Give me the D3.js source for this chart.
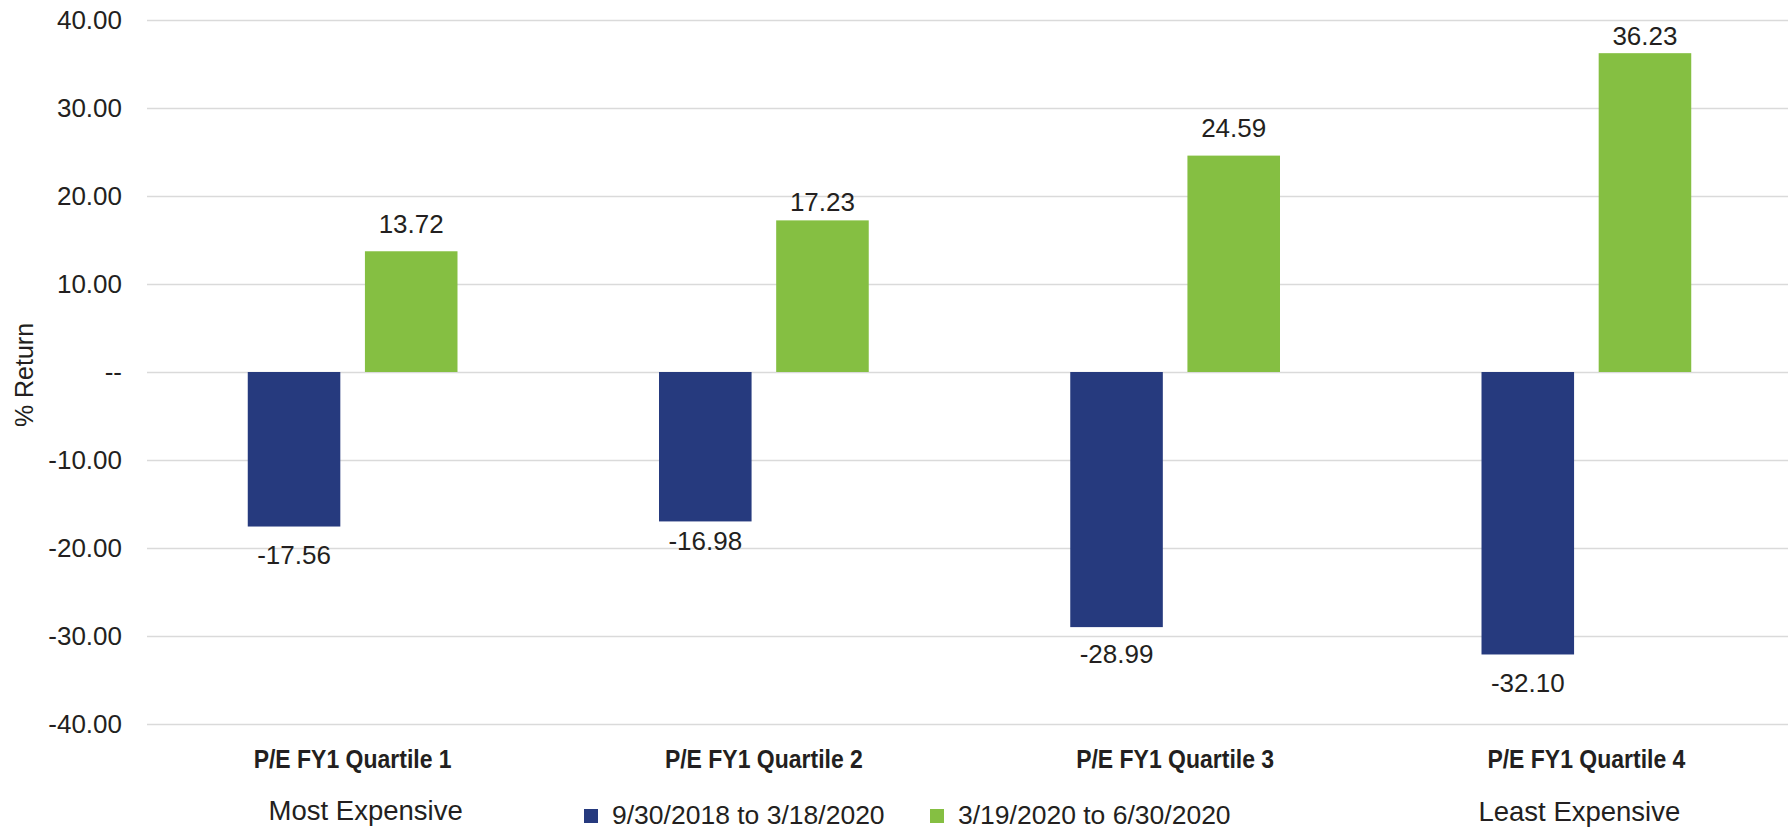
<!DOCTYPE html>
<html>
<head>
<meta charset="utf-8">
<script src="https://cdn.jsdelivr.net/npm/d3@7"></script>
<style>
  body { margin: 0; background: #fff; }
  svg text { font-family: "Liberation Sans", Arial, sans-serif; fill: #231f20; }
  .cat { font-family: "Liberation Sans Narrow", "Arial Narrow", "Liberation Sans", sans-serif; font-weight: bold; }
</style>
</head>
<body>
<svg id="chart" width="1788" height="830"></svg>
<script>
const categories = ["P/E FY1 Quartile 1", "P/E FY1 Quartile 2", "P/E FY1 Quartile 3", "P/E FY1 Quartile 4"];
const seriesNames = ["9/30/2018 to 3/18/2020", "3/19/2020 to 6/30/2020"];
const earlyReturns = [-17.56, -16.98, -28.99, -32.10];
const lateReturns = [13.72, 17.23, 24.59, 36.23];
const yTicks = [-40, -30, -20, -10, 0, 10, 20, 30, 40];
const endNotes = ["Most Expensive", "Least Expensive"];
const COLORS = ["#263a7e", "#85bf42"];

// label placement in the original is a bit uneven, nudge per category
const POS_GAP = [18, 9, 19, 8];
const NEG_GAP = [37, 29, 36, 38];

const svg = d3.select("#chart");
const W = 1788, H = 830;
const LEFT = 147, RIGHT = 1792, TOP = 20, BOTTOM = 724;

const rows = categories.map((c, i) => ({cat: c, idx: i, vals: [earlyReturns[i], lateReturns[i]]}));

const x0 = d3.scaleBand()
             .domain(categories)
             .range([LEFT, RIGHT])
             .paddingInner(0.49)
             .paddingOuter(0.245);

const x1 = d3.scaleBand()
             .domain([0, 1])
             .range([0, x0.bandwidth()])
             .paddingInner(0.21)
             .paddingOuter(0);

const y = d3.scaleLinear()
            .domain([-40, 40])
            .range([BOTTOM, TOP]);

// gridlines + tick labels
const yAxis = d3.axisLeft(y)
                .tickValues(yTicks)
                .tickSize(-(W - LEFT))
                .tickPadding(25)
                .tickFormat(d => d === 0 ? "--" : d.toFixed(2));

const gy = svg.append("g")
              .attr("transform", `translate(${LEFT},0)`)
              .call(yAxis);
gy.select(".domain").remove();
gy.selectAll(".tick line").attr("stroke", "#dadada").attr("stroke-width", 1.6);
gy.selectAll(".tick text")
  .attr("font-size", 26)
  .attr("font-family", "Liberation Sans, Arial, sans-serif")
  .attr("fill", "#231f20");

svg.append("text")
   .attr("transform", `translate(33,375) rotate(-90)`)
   .attr("text-anchor", "middle")
   .attr("font-size", 25)
   .text("% Return");

// bars
const groups = svg.selectAll("g.grp")
                  .data(rows)
                  .enter()
                  .append("g")
                  .attr("class", "grp")
                  .attr("transform", d => `translate(${x0(d.cat)},0)`);

const cells = d => d.vals.map((v, i) => ({v: v, s: i, idx: d.idx}));

groups.selectAll("rect")
      .data(cells)
      .enter()
      .append("rect")
      .attr("x", d => x1(d.s))
      .attr("y", d => y(Math.max(0, d.v)))
      .attr("width", x1.bandwidth())
      .attr("height", d => Math.abs(y(d.v) - y(0)))
      .attr("fill", d => COLORS[d.s]);

groups.selectAll("text.val")
      .data(cells)
      .enter()
      .append("text")
      .attr("class", "val")
      .attr("x", d => x1(d.s) + x1.bandwidth() / 2)
      .attr("y", d => d.v >= 0 ? y(d.v) - POS_GAP[d.idx] : y(d.v) + NEG_GAP[d.idx])
      .attr("text-anchor", "middle")
      .attr("font-size", 26)
      .text(d => d.v.toFixed(2));

// category labels
svg.selectAll("text.cat")
   .data(categories)
   .enter()
   .append("text")
   .attr("class", "cat")
   .attr("x", d => x0(d) + x0.bandwidth() / 2)
   .attr("y", 768)
   .attr("text-anchor", "middle")
   .attr("font-size", 26)
   .attr("textLength", 198)
   .attr("lengthAdjust", "spacingAndGlyphs")
   .text(d => d);

svg.append("text")
   .attr("x", x0(categories[0]) + x0.bandwidth() / 2 + 13)
   .attr("y", 820)
   .attr("text-anchor", "middle")
   .attr("font-size", 27.5)
   .text(endNotes[0]);

svg.append("text")
   .attr("x", x0(categories[3]) + x0.bandwidth() / 2 - 7)
   .attr("y", 821)
   .attr("text-anchor", "middle")
   .attr("font-size", 27.5)
   .text(endNotes[1]);

// legend (sits right at the bottom edge, like the original)
const legendX = [584, 930];
const leg = svg.selectAll("g.leg")
               .data(seriesNames)
               .enter()
               .append("g")
               .attr("class", "leg")
               .attr("transform", (d, i) => `translate(${legendX[i]},809)`);
leg.append("rect")
   .attr("width", 14)
   .attr("height", 14)
   .attr("fill", (d, i) => COLORS[i]);
leg.append("text")
   .attr("x", 28)
   .attr("y", 15)
   .attr("font-size", 26.5)
   .text(d => d);
</script>
</body>
</html>
